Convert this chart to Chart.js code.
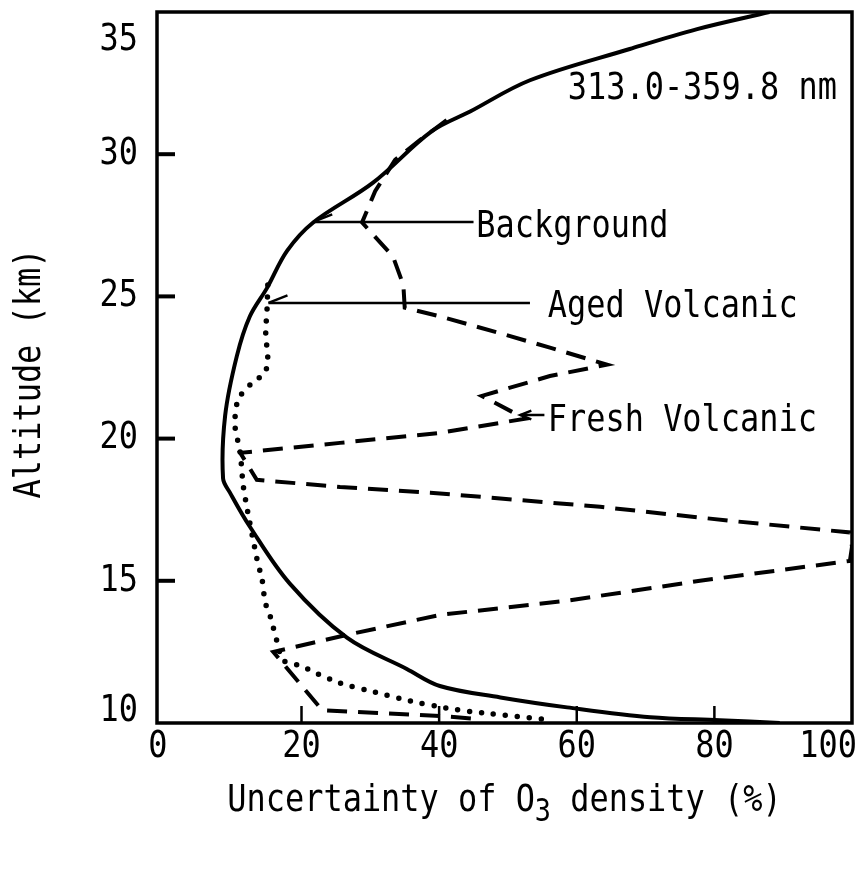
<!DOCTYPE html>
<html>
<head>
<meta charset="utf-8">
<script src="https://cdn.jsdelivr.net/npm/chart.js@4.4.1/dist/chart.umd.min.js"></script>
<style>
  html, body { margin: 0; padding: 0; background: #fff; }
</style>
</head>
<body>
<canvas id="c" width="859" height="873"></canvas>
<script>
var FONT = "'DejaVu Sans Mono', 'Liberation Mono', monospace";
var INK = "#000";
var SQUEEZE = 0.84;   // the typewriter lettering is tall and narrow

// Background aerosol (solid)
var bgAlt = [35.0, 34.4, 33.7, 32.6, 31.5, 30.8, 29.0, 27.6, 26.6, 25.3, 24.3, 22.9, 20.8, 18.6, 18.1, 16.9, 14.9, 13.0, 11.9, 11.3, 10.9, 10.55, 10.2, 10.1, 10.0];
var bgUnc = [88.0, 77.5, 67.7, 53.2, 44.5, 38.9, 30.4, 21.7, 17.9, 15.0, 12.5, 10.6, 8.9, 8.6, 9.6, 12.5, 18.3, 26.6, 35.3, 40.1, 48.9, 58.6, 70.7, 80.8, 89.5];

// Aged volcanic (dotted)
var agedAlt = [25.4, 24.6, 23.7, 22.8, 22.3, 22.0, 21.4, 20.5, 19.5, 18.4, 17.4, 15.8, 15.0, 14.25, 13.8, 12.9, 12.2, 12.0, 11.8, 11.4, 11.1, 10.8, 10.5, 10.35, 10.1];
var agedUnc = [15.1, 15.0, 14.8, 15.1, 14.7, 13.0, 10.8, 10.3, 11.1, 11.5, 12.2, 13.5, 14.3, 14.7, 15.4, 16.4, 17.3, 20.1, 21.7, 25.6, 30.4, 35.3, 41.6, 46.4, 56.5];

// Fresh volcanic (dashed)
var freshAlt = [31.2, 30.5, 29.8, 28.7, 27.6, 26.4, 25.4, 24.6, 24.3, 23.7, 23.2, 22.6, 22.2, 21.5, 20.7, 20.2, 19.85, 19.5, 18.55, 18.3, 18.1, 17.6, 17.1, 16.7, 16.2, 15.7, 15.0, 14.3, 13.8, 13.1, 12.5, 10.45, 10.25, 10.15];
var freshUnc = [41.1, 37.2, 33.6, 30.7, 28.8, 33.3, 34.8, 35.0, 40.1, 48.9, 56.1, 64.4, 56.1, 46.2, 52.5, 40.1, 25.6, 11.1, 13.5, 25.6, 38.7, 63.4, 82.7, 99.7, 100, 99.7, 77.9, 58.6, 40.1, 26.6, 15.9, 23.0, 40.1, 44.9];

var xTicks = [0, 20, 40, 60, 80, 100];
var yTicks = [10, 15, 20, 25, 30, 35];
var xMarks = [20, 40, 60, 80];
var yMarks = [15, 20, 25, 30];

var xTitle = ["Uncertainty of O", "3", " density (%)"];
var yTitle = "Altitude (km)";

// labels with leader arrows, in data units
var notes = [
  { text: "Background",     tx: 45.4, ty: 27.42, from: 45.0, to: 21.7, ay: 27.62, both: false },
  { text: "Aged Volcanic",  tx: 55.8, ty: 24.62, from: 53.2, to: 15.2, ay: 24.77, both: false },
  { text: "Fresh Volcanic", tx: 55.8, ty: 20.62, from: 55.3, to: 51.8, ay: 20.83, both: true }
];
var rangeText = { text: "313.0-359.8 nm", tx: 58.7, ty: 32.3 };

function pts(xs, ys) {
    return xs.map(function (v, i) { return { x: v, y: ys[i] }; });
}

function textW(ctx, s) {
    return ctx.measureText(s).width * SQUEEZE;
}

// draws narrow lettering; align is applied after squeezing
function put(ctx, s, x, y, align, rot) {
    var w = textW(ctx, s);
    var dx = align === "right" ? -w : (align === "center" ? -w / 2 : 0);
    ctx.save();
    ctx.translate(x, y);
    if (rot) ctx.rotate(rot);
    ctx.scale(SQUEEZE, 1);
    ctx.textAlign = "left";
    ctx.fillText(s, dx / SQUEEZE, 0);
    ctx.restore();
}

var framePlugin = {
    id: "frame",
    afterDatasetsDraw: function (chart) {
        var ctx = chart.ctx;
        var a = chart.chartArea;
        var xs = chart.scales.x, ys = chart.scales.y;
        ctx.save();
        ctx.strokeStyle = INK;
        ctx.fillStyle = INK;
        ctx.lineCap = "butt";

        // box
        ctx.lineWidth = 3.5;
        ctx.strokeRect(a.left, a.top, a.right - a.left, a.bottom - a.top);

        // inward tick marks
        ctx.lineWidth = 4;
        yMarks.forEach(function (v) {
            var py = ys.getPixelForValue(v);
            ctx.beginPath(); ctx.moveTo(a.left, py); ctx.lineTo(a.left + 18, py); ctx.stroke();
        });
        ctx.lineWidth = 2.5;
        xMarks.forEach(function (v) {
            var px = xs.getPixelForValue(v);
            ctx.beginPath(); ctx.moveTo(px, a.bottom); ctx.lineTo(px, a.bottom - 17); ctx.stroke();
        });

        ctx.font = "38px " + FONT;
        ctx.textBaseline = "middle";

        // y tick labels; the end ones sit inside the axis span as in the original
        yTicks.forEach(function (v) {
            var py = ys.getPixelForValue(v);
            py = Math.min(Math.max(py, a.top + 28), a.bottom - 12);
            put(ctx, String(v), a.left - 19, py, "right");
        });

        // x tick labels (last one kept inside the canvas)
        xTicks.forEach(function (v, i) {
            var px = xs.getPixelForValue(v);
            if (i === 0) px -= 6;
            if (i === xTicks.length - 1) put(ctx, String(v), px + 5, a.bottom + 24, "right");
            else put(ctx, String(v), px, a.bottom + 24, "center");
        });

        // axis titles
        put(ctx, yTitle, 30, (a.top + a.bottom) / 2 + 6, "center", -Math.PI / 2);
        var w0 = textW(ctx, xTitle[0]);
        ctx.font = "32px " + FONT;
        var w1 = textW(ctx, xTitle[1]);
        ctx.font = "38px " + FONT;
        var w2 = textW(ctx, xTitle[2]);
        var x0 = (a.left + a.right) / 2 - (w0 + w1 + w2) / 2;
        var ty = a.bottom + 78;
        put(ctx, xTitle[0], x0, ty, "left");
        ctx.font = "32px " + FONT;
        put(ctx, xTitle[1], x0 + w0, ty + 12, "left");
        ctx.font = "38px " + FONT;
        put(ctx, xTitle[2], x0 + w0 + w1, ty, "left");

        // annotations
        ctx.lineWidth = 2.5;
        notes.forEach(function (n) {
            var y = ys.getPixelForValue(n.ay);
            var xa = xs.getPixelForValue(n.from);
            var xb = xs.getPixelForValue(n.to);
            ctx.beginPath(); ctx.moveTo(xa, y); ctx.lineTo(xb, y); ctx.stroke();
            var bl = n.both ? 11 : 19;
            ctx.beginPath();
            ctx.moveTo(xb + bl, y - bl * 0.4); ctx.lineTo(xb, y);
            if (n.both) ctx.lineTo(xb + bl, y + bl * 0.4);
            ctx.stroke();
            put(ctx, n.text, xs.getPixelForValue(n.tx), ys.getPixelForValue(n.ty), "left");
        });
        put(ctx, rangeText.text, xs.getPixelForValue(rangeText.tx), ys.getPixelForValue(rangeText.ty), "left");
        ctx.restore();
    }
};

new Chart(document.getElementById("c"), {
    type: "scatter",
    data: {
        datasets: [
            {
                label: "Background",
                data: pts(bgUnc, bgAlt),
                showLine: true,
                borderColor: INK,
                borderWidth: 4,
                pointRadius: 0,
                tension: 0.35
            },
            {
                label: "Aged Volcanic",
                data: pts(agedUnc, agedAlt),
                showLine: true,
                borderColor: INK,
                borderWidth: 5.5,
                borderDash: [0, 12],
                borderCapStyle: "round",
                pointRadius: 0,
                tension: 0.2
            },
            {
                label: "Fresh Volcanic",
                data: pts(freshUnc, freshAlt),
                showLine: true,
                borderColor: INK,
                borderWidth: 4,
                borderDash: [20, 11],
                pointRadius: 0,
                tension: 0
            }
        ]
    },
    options: {
        responsive: false,
        animation: false,
        devicePixelRatio: 1,
        layout: { padding: { top: 12, right: 7, bottom: 54, left: 0 } },
        plugins: { legend: { display: false }, tooltip: { enabled: false } },
        scales: {
            x: {
                type: "linear",
                min: -1,
                max: 100,
                grid: { display: false },
                border: { display: false },
                ticks: { display: false },
                afterFit: function (s) { s.height = 96; }
            },
            y: {
                type: "linear",
                min: 10,
                max: 35,
                grid: { display: false },
                border: { display: false },
                ticks: { display: false },
                afterFit: function (s) { s.width = 157; }
            }
        }
    },
    plugins: [framePlugin]
});
</script>
</body>
</html>
